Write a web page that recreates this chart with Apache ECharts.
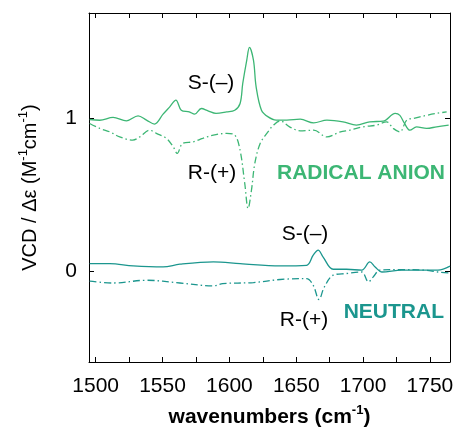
<!DOCTYPE html>
<html>
<head>
<meta charset="utf-8">
<script src="https://cdn.jsdelivr.net/npm/echarts@6/dist/echarts.min.js"></script>
<style>html,body{margin:0;padding:0;background:#fff;}#c{width:455px;height:428px;}</style>
</head>
<body>
<div id="c"></div>
<script>
// Radical anion, S-(-) solid
const radS_x = [1495.5,1503,1513,1523,1531.7,1538,1544,1550.4,1555.4,1560,1564,1570,1574,1579,1584,1590,1598,1604,1608,1610,1613,1615,1618,1620,1624,1629,1635,1643,1653,1663,1673,1685,1695,1705,1715,1724,1727.5,1731,1735,1740,1747.5,1755,1764];
const radS_y = [0.993,0.988,1.007,0.984,1.017,0.989,0.963,1.028,1.076,1.12,1.054,1.043,1.028,1.065,1.05,1.033,1.043,1.054,1.098,1.229,1.382,1.465,1.382,1.207,1.054,1.01,0.989,0.989,0.995,0.971,0.989,0.978,0.956,0.978,0.982,1.033,1.02,0.967,0.923,0.945,0.935,0.945,0.956];
// Radical anion, R-(+) dash-dot
const radR_x = [1495.5,1503,1510.5,1518,1527.7,1533,1540.4,1545.4,1553,1558,1561,1565,1573,1580,1588,1598,1604,1608,1611.5,1614,1616.5,1619,1623,1628,1633,1638,1645,1653,1663,1673,1683,1690,1700,1710,1717.6,1722.5,1727.5,1732.6,1737.5,1747.5,1755,1762.5];
const radR_y = [0.967,0.935,0.912,0.879,0.858,0.879,0.923,0.902,0.869,0.814,0.771,0.836,0.847,0.869,0.891,0.902,0.891,0.792,0.574,0.41,0.53,0.705,0.836,0.902,0.956,0.984,0.945,0.919,0.923,0.879,0.912,0.923,0.945,0.956,0.978,0.935,0.912,0.989,1.0,1.02,1.033,1.043];
// Neutral, S-(-) solid
const neuS_x = [1495.5,1510.5,1528,1550.4,1563,1588,1608,1638,1657.7,1662.7,1666.4,1670,1677.6,1687.6,1699,1705,1709,1714,1729,1746,1756,1765];
const neuS_y = [0.050,0.050,0.035,0.028,0.046,0.061,0.050,0.035,0.039,0.105,0.138,0.094,0.013,0.013,0.007,0.061,0.028,-0.005,0.007,0.007,0.007,0.033];
// Neutral, R-(+) dash-dot
const neuR_x = [1495.5,1513,1538,1563,1588,1595,1618,1638,1657.7,1662.7,1667,1671,1677.6,1687.6,1699,1704,1707.6,1712.6,1729,1746,1756,1765];
const neuR_y = [-0.065,-0.077,-0.059,-0.077,-0.096,-0.081,-0.074,-0.054,-0.048,-0.092,-0.185,-0.103,-0.026,-0.015,-0.005,-0.070,-0.037,0.007,0.011,0.007,-0.005,-0.011];

const xTickValues = [1500,1525,1550,1575,1600,1625,1650,1675,1700,1725,1750];
const xLabelValues = [1500,1550,1600,1650,1700,1750];
const yTickValues = [0,1];

const GREEN = '#3cb674';
const TEAL = '#1b968e';
const FONT = 'Liberation Sans, Arial, Helvetica, sans-serif';

function zip(a,b){return a.map((v,i)=>[v,b[i]]);}

const chart = echarts.init(document.getElementById('c'), null, {renderer:'canvas'});
const axisCommon = {
  axisLine:{show:true,onZero:false,lineStyle:{color:'#000',width:1}},
  splitLine:{show:false}
};
const supRich = {
  n:{fontSize:20,fontFamily:FONT,color:'#000',lineHeight:26},
  s:{fontSize:13,fontFamily:FONT,color:'#000',verticalAlign:'top'},
  nb:{fontSize:21,fontFamily:FONT,color:'#000',fontWeight:'bold',lineHeight:26},
  sb:{fontSize:13,fontFamily:FONT,color:'#000',fontWeight:'bold',verticalAlign:'top'}
};
chart.setOption({
  animation:false,
  backgroundColor:'#fff',
  grid:{left:89,right:5,top:13,bottom:66,containLabel:false,outerBoundsMode:'none'},
  xAxis:[
    Object.assign({type:'value',min:1495,max:1765,position:'bottom',
      name:'{nb|wavenumbers (cm}{sb|-1}{nb|)}',nameLocation:'middle',nameGap:42,
      nameTextStyle:{rich:supRich},
      axisTick:{show:true,inside:true,length:5,customValues:xTickValues,lineStyle:{color:'#000'}},
      axisLabel:{show:true,customValues:xLabelValues,formatter:function(v){return String(v);},fontSize:21,fontFamily:FONT,color:'#000',margin:14}
    },axisCommon),
    Object.assign({type:'value',min:1495,max:1765,position:'top',
      axisTick:{show:true,inside:true,length:5,customValues:xTickValues,lineStyle:{color:'#000'}},
      axisLabel:{show:false}
    },axisCommon)
  ],
  yAxis:[
    Object.assign({type:'value',min:-0.594,max:1.69,position:'left',
      name:'{n|VCD / Δε (M}{s|-1}{n|cm}{s|-1}{n|)}',nameLocation:'middle',nameGap:46,nameRotate:90,
      nameTextStyle:{rich:supRich},
      axisTick:{show:true,inside:true,length:5,customValues:yTickValues,lineStyle:{color:'#000'}},
      axisLabel:{show:true,customValues:yTickValues,fontSize:21,fontFamily:FONT,color:'#000',margin:12}
    },axisCommon),
    Object.assign({type:'value',min:-0.594,max:1.69,position:'right',
      axisTick:{show:true,inside:true,length:5,customValues:yTickValues,lineStyle:{color:'#000'}},
      axisLabel:{show:false}
    },axisCommon)
  ],
  series:[
    {type:'line',data:zip(radS_x,radS_y),showSymbol:false,smooth:0.35,lineStyle:{color:GREEN,width:1.3},z:3},
    {type:'line',data:zip(radR_x,radR_y),showSymbol:false,smooth:0.35,lineStyle:{color:GREEN,width:1.3,type:[7,3,1.5,3]},z:3},
    {type:'line',data:zip(neuS_x,neuS_y),showSymbol:false,smooth:0.35,lineStyle:{color:TEAL,width:1.3},z:3},
    {type:'line',data:zip(neuR_x,neuR_y),showSymbol:false,smooth:0.35,lineStyle:{color:TEAL,width:1.3,type:[7,3,1.5,3]},z:3}
  ],
  graphic:[
    {type:'text',x:211,y:83,style:{text:'S-(–)',font:'21px '+FONT,fill:'#000',textAlign:'center',textVerticalAlign:'middle'}},
    {type:'text',x:212,y:173,style:{text:'R-(+)',font:'21px '+FONT,fill:'#000',textAlign:'center',textVerticalAlign:'middle'}},
    {type:'text',x:445,y:173,style:{text:'RADICAL ANION',font:'bold 21px '+FONT,fill:GREEN,textAlign:'right',textVerticalAlign:'middle'}},
    {type:'text',x:305,y:234,style:{text:'S-(–)',font:'21px '+FONT,fill:'#000',textAlign:'center',textVerticalAlign:'middle'}},
    {type:'text',x:304,y:320,style:{text:'R-(+)',font:'21px '+FONT,fill:'#000',textAlign:'center',textVerticalAlign:'middle'}},
    {type:'text',x:444,y:312,style:{text:'NEUTRAL',font:'bold 21px '+FONT,fill:TEAL,textAlign:'right',textVerticalAlign:'middle'}}
  ]
});
</script>
</body>
</html>
